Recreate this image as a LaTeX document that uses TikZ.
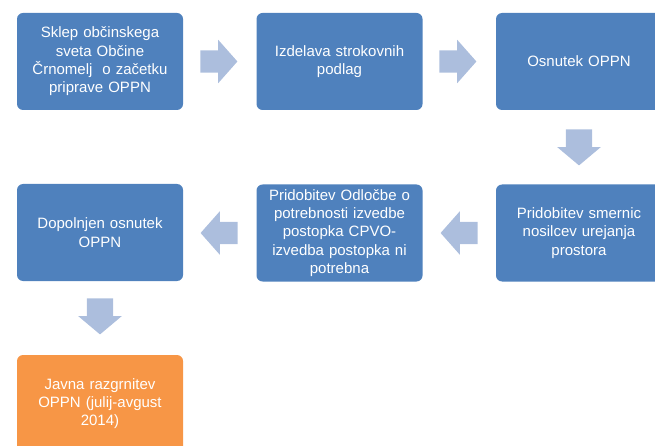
\documentclass[tikz,border=0pt]{standalone}
\usepackage{fontspec}
\setmainfont{Liberation Sans}
\usetikzlibrary{shapes.arrows,calc}
\definecolor{boxblue}{HTML}{4F81BD}
\definecolor{boxorange}{HTML}{F79646}
\definecolor{arrowc}{RGB}{172,190,221}
\begin{document}
\begin{tikzpicture}[x=1pt,y=-1pt,
  stepbox/.style={rectangle, rounded corners=6pt, fill=boxblue, draw=none,
    minimum width=166pt, minimum height=97pt, inner sep=0pt,
    text width=158pt, align=center, text=white,
    font=\fontsize{15pt}{18.3pt}\selectfont},
  hblock/.style={single arrow, fill=arrowc, draw=none, inner xsep=0pt, inner ysep=11pt,
    minimum height=37pt, anchor=tail,
    single arrow head extend=10.5pt, single arrow tip angle=97},
  vblock/.style={single arrow, fill=arrowc, draw=none, inner xsep=0pt, inner ysep=13pt,
    minimum height=36pt, anchor=tail,
    single arrow head extend=8.5pt, single arrow tip angle=100, rotate=-90}
]
\useasboundingbox (0,0) rectangle (655,446);
\clip (0,0) rectangle (655,446);
\node[stepbox] (b1) at (100,61.5) {Sklep občinskega\\sveta Občine\\Črnomelj\ \ o začetku\\priprave OPPN};
\node[stepbox] (b2) at (339.5,61.5) {Izdelava strokovnih\\podlag};
\node[stepbox] (b3) at (579,61.5) {Osnutek OPPN};
\node[stepbox] (b6) at (579,233) {Pridobitev smernic\\nosilcev urejanja\\prostora};
\node[stepbox] (b5) at (339.5,233) {Pridobitev Odločbe o\\potrebnosti izvedbe\\postopka CPVO-\\izvedba postopka ni\\potrebna};
\node[stepbox] (b4) at (100,232.5) {Dopolnjen osnutek\\OPPN};
\node[stepbox, fill=boxorange] (b7) at (100,403.5) {Javna razgrnitev\\OPPN (julij-avgust\\2014)};

\node[hblock] (a12) at ($(b1.east)+(17,0)$) {};
\node[hblock] (a23) at ($(b2.east)+(16.5,0)$) {};
\node[vblock] (a36) at ($(b3.south)+(0,19)$) {};
\node[hblock, rotate=180] (a65) at ($(b6.west)+(-18,0)$) {};
\node[hblock, rotate=180] (a54) at ($(b5.west)+(-18.5,0)$) {};
\node[vblock] (a47) at ($(b4.south)+(0,17)$) {};
\end{tikzpicture}
\end{document}
